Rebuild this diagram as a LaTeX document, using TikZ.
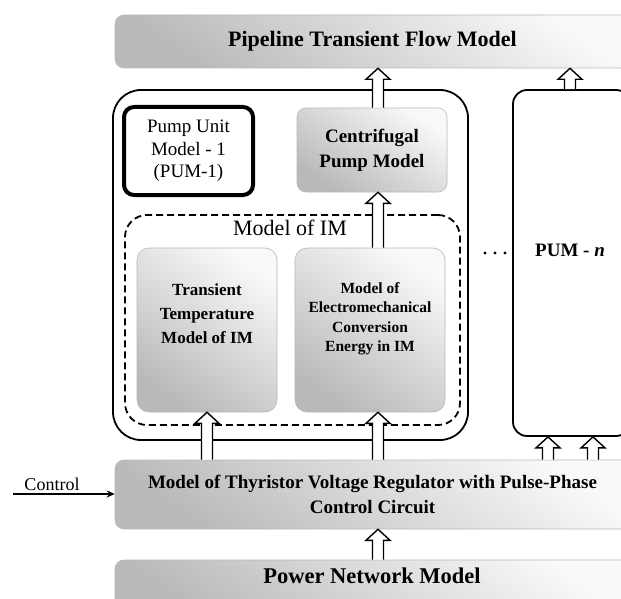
\documentclass[tikz,border=0pt]{standalone}
\usepackage{fontspec}
\setmainfont{Liberation Serif}
\usetikzlibrary{calc,arrows.meta}
\tikzset{
  shbox/.style={rounded corners=9pt, draw=gray!55, line width=0.6pt,
    top color=gray!5, bottom color=gray!55, shading angle=-35, inner sep=0pt},
  plainbox/.style={draw=black, rounded corners=#1, fill=none, inner sep=0pt},
  lbl/.style={inner sep=0pt, align=center},
  hollow/.style={line width=1.4pt, fill=white, draw=black, line join=miter,
    to path={let \p1=(\tikztostart), \p2=(\tikztotarget) in
      (\x2-5.5pt,\y1) -- (\x2-5.5pt,\y2-11pt) -- (\x2-12pt,\y2-11pt) -- (\x2,\y2)
      -- (\x2+12pt,\y2-11pt) -- (\x2+5.5pt,\y2-11pt) -- (\x2+5.5pt,\y1)}},
}
\begin{document}
\begin{tikzpicture}[x=1pt,y=-1pt]
\useasboundingbox (0,0) rectangle (621,599);
\clip (0,0) rectangle (621,599);
\fill[white] (0,0) rectangle (621,599);
% bars
\node[shbox, minimum width=515pt, minimum height=53pt, font=\fontsize{22}{24}\selectfont\bfseries] (top) at (372.5,41.5)
  {Pipeline Transient Flow Model};
\node[shbox, minimum width=515pt, minimum height=69pt, align=center, font=\fontsize{19}{25}\selectfont\bfseries] (mid) at (372.5,494.5)
  {Model of Thyristor Voltage Regulator with Pulse-Phase\\Control Circuit};
\node[shbox, minimum width=515pt, minimum height=56pt] (bot) at (372.5,588) {};
\node[lbl, font=\fontsize{22.5}{24}\selectfont\bfseries] (botlbl) at (372,576) {Power Network Model};
% PUM-1
\node[plainbox=28pt, line width=1.8pt, minimum width=355pt, minimum height=350pt] (outer) at (290.5,265) {};
\node[plainbox=10pt, line width=4pt, minimum width=129pt, minimum height=88pt, align=center, font=\fontsize{19}{22.5}\selectfont] (pum1) at (188.5,151)
  {Pump Unit\\Model - 1\\(PUM-1)};
\node[shbox, minimum width=150pt, minimum height=84pt, align=center, font=\fontsize{19}{25}\selectfont\bfseries] (cp) at (372,150)
  {Centrifugal\\Pump Model};
\node[plainbox=22pt, line width=1.8pt, dash pattern=on 7pt off 4pt, minimum width=335pt, minimum height=210pt] (im) at (292.5,320) {};
\node[lbl, font=\fontsize{22}{24}\selectfont] (imlbl) at (290,228) {Model of IM};
\node[shbox, rounded corners=12pt, minimum width=140pt, minimum height=164pt] (tt) at (207,330) {};
\node[lbl, font=\fontsize{17}{24}\selectfont\bfseries] (ttlbl) at (207,314) {Transient\\Temperature\\Model of IM};
\node[shbox, rounded corners=12pt, minimum width=150pt, minimum height=164pt] (em) at (370,330) {};
\node[lbl, font=\fontsize{15.5}{19.5}\selectfont\bfseries] (emlbl) at (370,319) {Model of\\Electromechanical\\Conversion\\Energy in IM};
% PUM-n
\node[plainbox=14pt, line width=1.8pt, minimum width=117pt, minimum height=346pt] (pumn) at (571.5,263) {};
\node[lbl, font=\fontsize{19}{22}\selectfont\bfseries] (pumnlbl) at (570,250) {PUM - \textit{n}};
\foreach \i/\xx in {1/485,2/495,3/505} \fill (\xx,253) circle (1.6pt);
% hollow arrows
\coordinate (ax) at (378,0);
\coordinate (ra) at (548,0);
\coordinate (rb) at (593,0);
\coordinate (rc) at (570,0);
\draw[hollow] (ax |- cp.north) to (ax |- top.south);
\draw[hollow] (rc |- pumn.north) to (rc |- top.south);
\draw[hollow] (ax |- em.north) to (ax |- cp.south);
\draw[hollow] (tt.south |- mid.north) to (tt.south);
\draw[hollow] (ax |- mid.north) to (ax |- em.south);
\draw[hollow] (ax |- bot.north) to (ax |- mid.south);
\draw[hollow] (ra |- mid.north) to (ra |- pumn.south);
\draw[hollow] (rb |- mid.north) to (rb |- pumn.south);
% control
\coordinate (cs) at (13,494);
\node[lbl, anchor=south, font=\fontsize{18}{20}\selectfont] (ctl) at (52,491) {Control};
\draw[line width=1.2pt, -{Stealth[length=8pt,width=7pt]}] (cs) -- (mid.west |- cs);
\end{tikzpicture}
\end{document}
